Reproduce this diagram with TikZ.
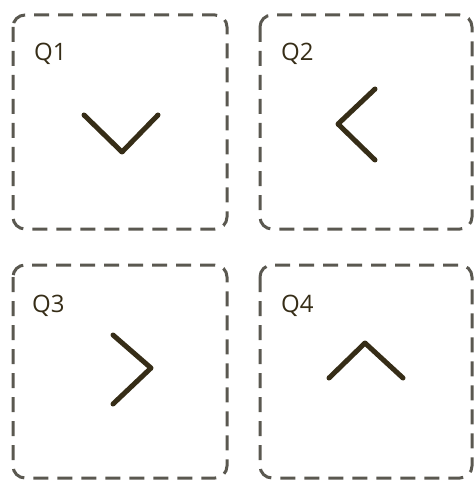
\documentclass[tikz,border=0pt]{standalone}
\usepackage{fontspec}
\setmainfont{Open Sans}
\definecolor{dashgray}{HTML}{5A5850}
\definecolor{chev}{HTML}{362D17}
\tikzset{
  qbox/.style={draw=dashgray, line width=3pt, dash pattern=on 15pt off 9pt, rounded corners=12pt},
  qlabel/.style={anchor=north west, inner sep=0pt, font=\fontsize{24}{28}\selectfont, text=chev},
  chevron/.style={draw=chev, line width=5pt, line cap=round, line join=round}
}
\begin{document}
\begin{tikzpicture}[x=1pt,y=-1pt]
\useasboundingbox (0,0) rectangle (474,481);
% boxes
\draw[qbox] (13,15) rectangle (227,229);
\draw[qbox] (260,15) rectangle (472,229);
\draw[qbox] (13,265) rectangle (227,478);
\draw[qbox] (260,265) rectangle (472,478);
% labels
\node[qlabel] (q1) at (34,43) {Q1};
\node[qlabel] (q2) at (281,43) {Q2};
\node[qlabel] (q3) at (32,295) {Q3};
\node[qlabel] (q4) at (281,295) {Q4};
% chevrons
\draw[chevron] (84,115) -- (122,152) -- (158,115);
\draw[chevron] (375,89) -- (338,124) -- (375,160);
\draw[chevron] (113,335) -- (151,368) -- (113,404);
\draw[chevron] (329,378) -- (365,343) -- (403,378);
\end{tikzpicture}
\end{document}
